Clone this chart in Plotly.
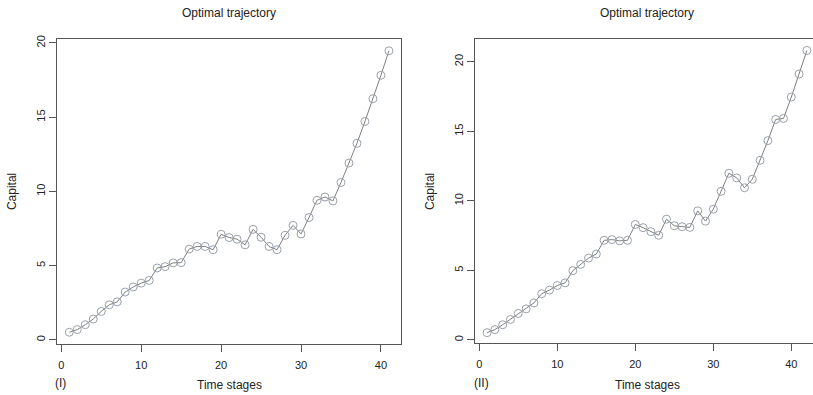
import plotly.graph_objects as go

stages_I = list(range(1, 42))
capital_I = [0.51, 0.69, 1.02, 1.40, 1.91, 2.36, 2.56, 3.22, 3.56, 3.82,
             4.00, 4.84, 4.93, 5.18, 5.20, 6.11, 6.29, 6.29, 6.07, 7.11,
             6.89, 6.78, 6.40, 7.44, 6.91, 6.29, 6.07, 7.04, 7.71, 7.13,
             8.24, 9.40, 9.62, 9.36, 10.60, 11.91, 13.24, 14.71, 16.24, 17.82,
             19.47]

stages_II = list(range(1, 43))
capital_II = [0.52, 0.74, 1.09, 1.47, 1.90, 2.23, 2.66, 3.32, 3.58, 3.91,
              4.10, 4.98, 5.43, 5.88, 6.17, 7.16, 7.21, 7.12, 7.16, 8.30,
              8.07, 7.78, 7.52, 8.68, 8.21, 8.14, 8.09, 9.28, 8.54, 9.40,
              10.68, 11.98, 11.65, 10.94, 11.55, 12.91, 14.33, 15.85, 15.92, 17.46,
              19.12, 20.81]

x_ticks = [0, 10, 20, 30, 40]
y_ticks = [0, 5, 10, 15, 20]
title_text = "Optimal trajectory"
x_label = "Time stages"
y_label = "Capital"
panel_labels = ["(I)", "(II)"]

FONT = "Liberation Sans, Arial, sans-serif"
LINE_COL = "#555555"
TRACE_COL = "#7f7f7f"
MARK_COL = "#9aa1ab"

fig = go.Figure()
fig.add_trace(go.Scatter(x=stages_I, y=capital_I, mode="lines+markers",
                         line=dict(color=TRACE_COL, width=1),
                         marker=dict(symbol="circle-open", size=8,
                                     color=MARK_COL, line=dict(width=1)),
                         xaxis="x", yaxis="y", showlegend=False))
fig.add_trace(go.Scatter(x=stages_II, y=capital_II, mode="lines+markers",
                         line=dict(color=TRACE_COL, width=1),
                         marker=dict(symbol="circle-open", size=8,
                                     color=MARK_COL, line=dict(width=1)),
                         xaxis="x2", yaxis="y2", showlegend=False))

W, H = 813, 395

def xd(a, b):
    return [a / W, min(b / W, 1.0)]

def yd(top, bottom):
    return [(H - bottom) / H, (H - top) / H]

axis_common = dict(showline=True, linecolor=LINE_COL, linewidth=1,
                   ticks="outside", ticklen=7, tickcolor=LINE_COL, tickwidth=1,
                   showgrid=False, zeroline=False,
                   tickfont=dict(family=FONT, size=11, color="#222222"))

fig.update_layout(
    width=W, height=H,
    margin=dict(l=0, r=0, t=0, b=0),
    paper_bgcolor="white", plot_bgcolor="white",
    xaxis=dict(domain=xd(57.3, 401.3), range=[-0.5, 42.55], tickvals=x_ticks,
               mirror=True, anchor="y", ticklabelstandoff=4, **axis_common),
    yaxis=dict(domain=yd(35.3, 343.0), range=[-0.25, 20.27], tickvals=y_ticks,
               mirror=True, anchor="x", tickangle=-90, **axis_common),
    xaxis2=dict(domain=xd(475.3, 813), range=[-0.51, (813 - 479.3) / 7.8], tickvals=x_ticks,
                mirror=True, anchor="y2", ticklabelstandoff=4, **axis_common),
    yaxis2=dict(domain=yd(35.0, 342.7), range=[-0.24, 21.66], tickvals=y_ticks,
                mirror=False, anchor="x2", tickangle=-90, **axis_common),
)

def ann(text, x, y, size=12, angle=0):
    fig.add_annotation(text=text, x=x / W, y=(H - y) / H, xref="paper", yref="paper",
                       showarrow=False, textangle=angle,
                       font=dict(family=FONT, size=size, color="#222222"),
                       xanchor="center", yanchor="middle")

ann(title_text, 229, 9)
ann(title_text, 647, 9)
ann(y_label, 12, 190, angle=-90)
ann(y_label, 430, 190, angle=-90)
ann(x_label, 229, 385)
ann(x_label, 647.5, 385)
ann(panel_labels[0], 60.7, 383)
ann(panel_labels[1], 482, 383)

post = ("document.body.style.margin='0';document.body.style.overflow='hidden';"
        "var gd=document.getElementById('{plot_id}');gd.style.position='absolute';"
        "gd.style.top='0px';gd.style.left='0px';")
fig.write_html("out.html", post_script=post, config={"displayModeBar": False})
